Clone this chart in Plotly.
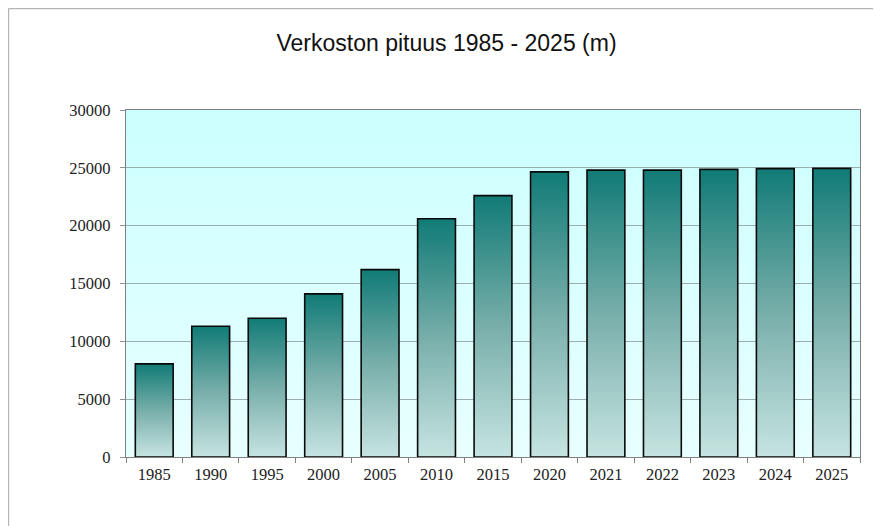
import base64
import plotly.graph_objects as go

years = ["1985", "1990", "1995", "2000", "2005", "2010", "2015",
         "2020", "2021", "2022", "2023", "2024", "2025"]
lengths = [8050, 11300, 12000, 14100, 16200, 20600, 22600,
           24650, 24800, 24800, 24870, 24930, 24950]
y_ticks = [0, 5000, 10000, 15000, 20000, 25000, 30000]
title_text = "Verkoston pituus 1985 - 2025 (m)"

OFF = 8  # page offset of the rendered figure
W, H = 881 - OFF, 526 - OFF
ML, MT = 126 - OFF, 110 - OFF
PW, PH = 734, 347
MR, MB = W - ML - PW, H - MT - PH
half = 0.335
bar_scale = [[0, "#c6e4e1"], [0.5, "#78aeaa"], [1, "#117b76"]]

fig = go.Figure()
for i, (yr, v) in enumerate(zip(years, lengths)):
    fig.add_trace(go.Scatter(
        x=[i - half, i - half, i + half, i + half, i - half],
        y=[0, v, v, 0, 0],
        mode="lines", fill="toself",
        fillgradient=dict(type="vertical", colorscale=bar_scale),
        line=dict(color="#0a0a0a", width=1.6),
        name=yr, hoverinfo="text", text=f"{yr}: {v}",
        showlegend=False,
    ))

# background gradient for the plot area (SVG data URI)
svg = ('<svg xmlns="http://www.w3.org/2000/svg" width="10" height="100" preserveAspectRatio="none">'
       '<defs><linearGradient id="g" x1="0" y1="0" x2="0" y2="1">'
       '<stop offset="0" stop-color="#ccffff"/><stop offset="1" stop-color="#e8ffff"/>'
       '</linearGradient></defs><rect width="10" height="100" fill="url(#g)"/></svg>')
src = "data:image/svg+xml;base64," + base64.b64encode(svg.encode()).decode()
n = len(years)
fig.add_layout_image(dict(source=src, xref="x", yref="y", x=-0.5, y=y_ticks[-1],
                          sizex=n, sizey=y_ticks[-1], sizing="stretch",
                          layer="below", xanchor="left", yanchor="top"))

lx = (0.6 - ML) / PW
rx = (W - ML) / PW
ty = (H - MB - 0.6) / PH
by = -MB / PH
border = dict(color="#b4b4b4", width=1.2)
fig.add_shape(type="line", xref="paper", yref="paper", x0=lx, x1=lx,
              y0=by, y1=ty, line=border)
fig.add_shape(type="line", xref="paper", yref="paper", x0=lx, x1=rx, y0=ty, y1=ty, line=border)

fig.update_layout(
    width=W, height=H,
    margin=dict(l=ML, r=MR, t=MT, b=MB),
    paper_bgcolor="white", plot_bgcolor="#ccffff",
    title=dict(text=title_text, x=(446.5 - OFF) / W, xref="container", xanchor="center",
               y=1 - (43 - OFF) / H, yanchor="middle", yref="container",
               font=dict(family="Liberation Sans, Arial, sans-serif", size=23, color="#111")),
    showlegend=False,
)
fig.update_xaxes(
    range=[-0.5, n - 0.5], tickvals=list(range(n)), ticktext=years,
    ticks="", showgrid=False, zeroline=False,
    showline=True, linecolor="#808080", linewidth=1.2, mirror=True,
    tickfont=dict(family="Liberation Serif, serif", size=16.5, color="#222"),
    ticklabelstandoff=2,
    minor=dict(tickmode="linear", tick0=-0.5, dtick=1, ticks="outside",
               ticklen=5, tickcolor="#808080", tickwidth=1, showgrid=False),
    fixedrange=True,
)
fig.update_yaxes(
    range=[0, y_ticks[-1]], tickvals=y_ticks, ticktext=[str(t) for t in y_ticks],
    ticks="outside", ticklen=5, tickcolor="#909090",
    showgrid=True, gridcolor="#9aaeae", gridwidth=1, zeroline=False,
    showline=True, linecolor="#808080", linewidth=1.2, mirror=True,
    tickfont=dict(family="Liberation Serif, serif", size=16.5, color="#222"),
    ticklabelstandoff=6,
    fixedrange=True,
)
fig.write_html("out.html")
